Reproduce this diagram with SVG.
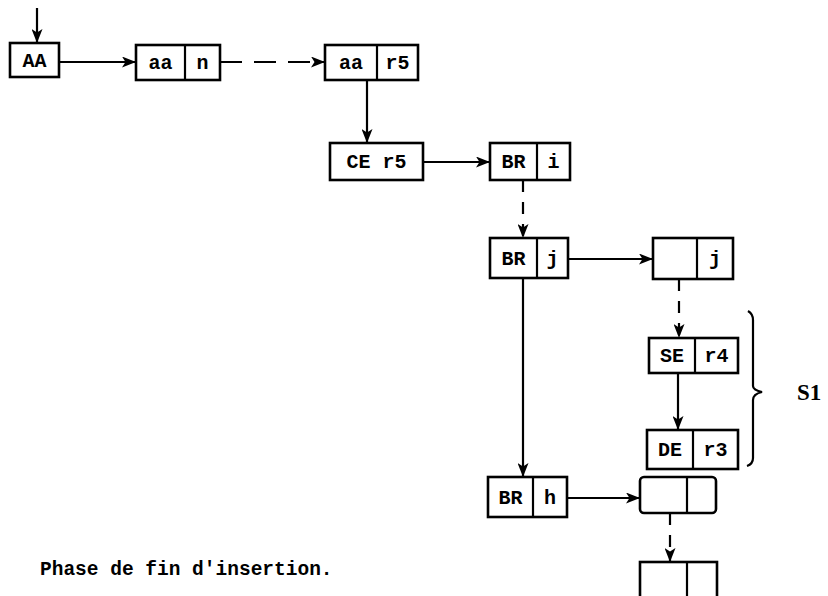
<svg xmlns="http://www.w3.org/2000/svg" width="828" height="596" viewBox="0 0 828 596">
<style>
.b{fill:#fff;stroke:#000;stroke-width:2.6}
.d{stroke:#000;stroke-width:2.2}
.t{font-family:"Liberation Mono","DejaVu Sans Mono",monospace;font-weight:bold;font-size:20px;fill:#000;text-anchor:middle}
.c{fill:none;stroke:#000;stroke-width:2.2}
.dash{stroke-dasharray:22 12}
.vd{stroke-dasharray:12 10}
.cap{font-family:"Liberation Mono","DejaVu Sans Mono",monospace;font-size:19.5px;font-weight:bold;fill:#000}
.s1{font-family:"Liberation Serif","DejaVu Serif",serif;font-size:23px;font-weight:bold;fill:#000}
</style>
<defs>
<marker id="ah" viewBox="0 0 14 11" refX="13" refY="5.5" markerWidth="14" markerHeight="11" markerUnits="userSpaceOnUse" orient="auto">
<path d="M0,0 L14,5.5 L0,11 L3.5,5.5 Z" fill="#000"/>
</marker>
</defs>
<rect width="828" height="596" fill="#fff"/>
<g id="connectors">
<line class="c" x1="37" y1="8" x2="37" y2="42" marker-end="url(#ah)"/>
<line class="c" x1="59" y1="62" x2="135" y2="62" marker-end="url(#ah)"/>
<line class="c dash" x1="220" y1="62" x2="324" y2="62" marker-end="url(#ah)"/>
<line class="c" x1="367" y1="80" x2="367" y2="142" marker-end="url(#ah)"/>
<line class="c" x1="423" y1="162" x2="489" y2="162" marker-end="url(#ah)"/>
<line class="c vd" x1="523" y1="180" x2="523" y2="237" marker-end="url(#ah)"/>
<line class="c" x1="568" y1="259" x2="652" y2="259" marker-end="url(#ah)"/>
<line class="c vd" x1="679" y1="279" x2="679" y2="337" marker-end="url(#ah)"/>
<line class="c" x1="678" y1="373" x2="678" y2="429" marker-end="url(#ah)"/>
<line class="c" x1="523" y1="278" x2="523" y2="476" marker-end="url(#ah)"/>
<line class="c" x1="567" y1="498" x2="639" y2="498" marker-end="url(#ah)"/>
<line class="c vd" x1="670" y1="513" x2="670" y2="561" marker-end="url(#ah)"/>
</g>
<g id="n_AA"><rect class="b" x="10" y="43" width="49" height="34"/><text class="t" x="34.5" y="67">AA</text></g>
<g id="n_aa_n"><rect class="b" x="136" y="45" width="84" height="35"/><line class="d" x1="185" y1="45" x2="185" y2="80"/><text class="t" x="160.5" y="69">aa</text><text class="t" x="202.5" y="69">n</text></g>
<g id="n_aa_r5"><rect class="b" x="325" y="45" width="93" height="35"/><line class="d" x1="377" y1="45" x2="377" y2="80"/><text class="t" x="351" y="69">aa</text><text class="t" x="397.5" y="69">r5</text></g>
<g id="n_CE_r5"><rect class="b" x="330" y="143" width="93" height="37"/><text class="t" x="376.5" y="168">CE r5</text></g>
<g id="n_BR_i"><rect class="b" x="490" y="143" width="80" height="37"/><line class="d" x1="537" y1="143" x2="537" y2="180"/><text class="t" x="513.5" y="168">BR</text><text class="t" x="553.5" y="168">i</text></g>
<g id="n_BR_j"><rect class="b" x="490" y="238" width="78" height="40"/><line class="d" x1="537" y1="238" x2="537" y2="278"/><text class="t" x="513.5" y="265">BR</text><text class="t" x="552.5" y="265">j</text></g>
<g id="n_x_j"><rect class="b" x="653" y="238" width="80" height="41"/><line class="d" x1="697" y1="238" x2="697" y2="279"/><text class="t" x="715" y="265">j</text></g>
<g id="n_SE_r4"><rect class="b" x="649" y="338" width="89" height="35"/><line class="d" x1="695" y1="338" x2="695" y2="373"/><text class="t" x="672" y="362">SE</text><text class="t" x="716.5" y="362">r4</text></g>
<g id="n_DE_r3"><rect class="b" x="647" y="430" width="91" height="39"/><line class="d" x1="693" y1="430" x2="693" y2="469"/><text class="t" x="670" y="456">DE</text><text class="t" x="715.5" y="456">r3</text></g>
<g id="n_BR_h"><rect class="b" x="488" y="477" width="79" height="40"/><line class="d" x1="533" y1="477" x2="533" y2="517"/><text class="t" x="510.5" y="504">BR</text><text class="t" x="550" y="504">h</text></g>
<g id="n_empty1"><rect class="b" x="640" y="477" width="76" height="36" rx="4"/><line class="d" x1="687" y1="477" x2="687" y2="513"/></g>
<g id="n_empty2"><rect class="b" x="640" y="562" width="77" height="40"/><line class="d" x1="687" y1="562" x2="687" y2="596"/></g>
<g id="brace">
<path class="c" d="M748,311 Q753,314 753,320 L753,386 Q753,390 762,392 Q753,394 753,400 L753,458 Q753,464 747,466"/>
<text class="s1" x="797" y="400">S1</text>
</g>
<text class="cap" x="40" y="575">Phase de fin d'insertion.</text>
</svg>
